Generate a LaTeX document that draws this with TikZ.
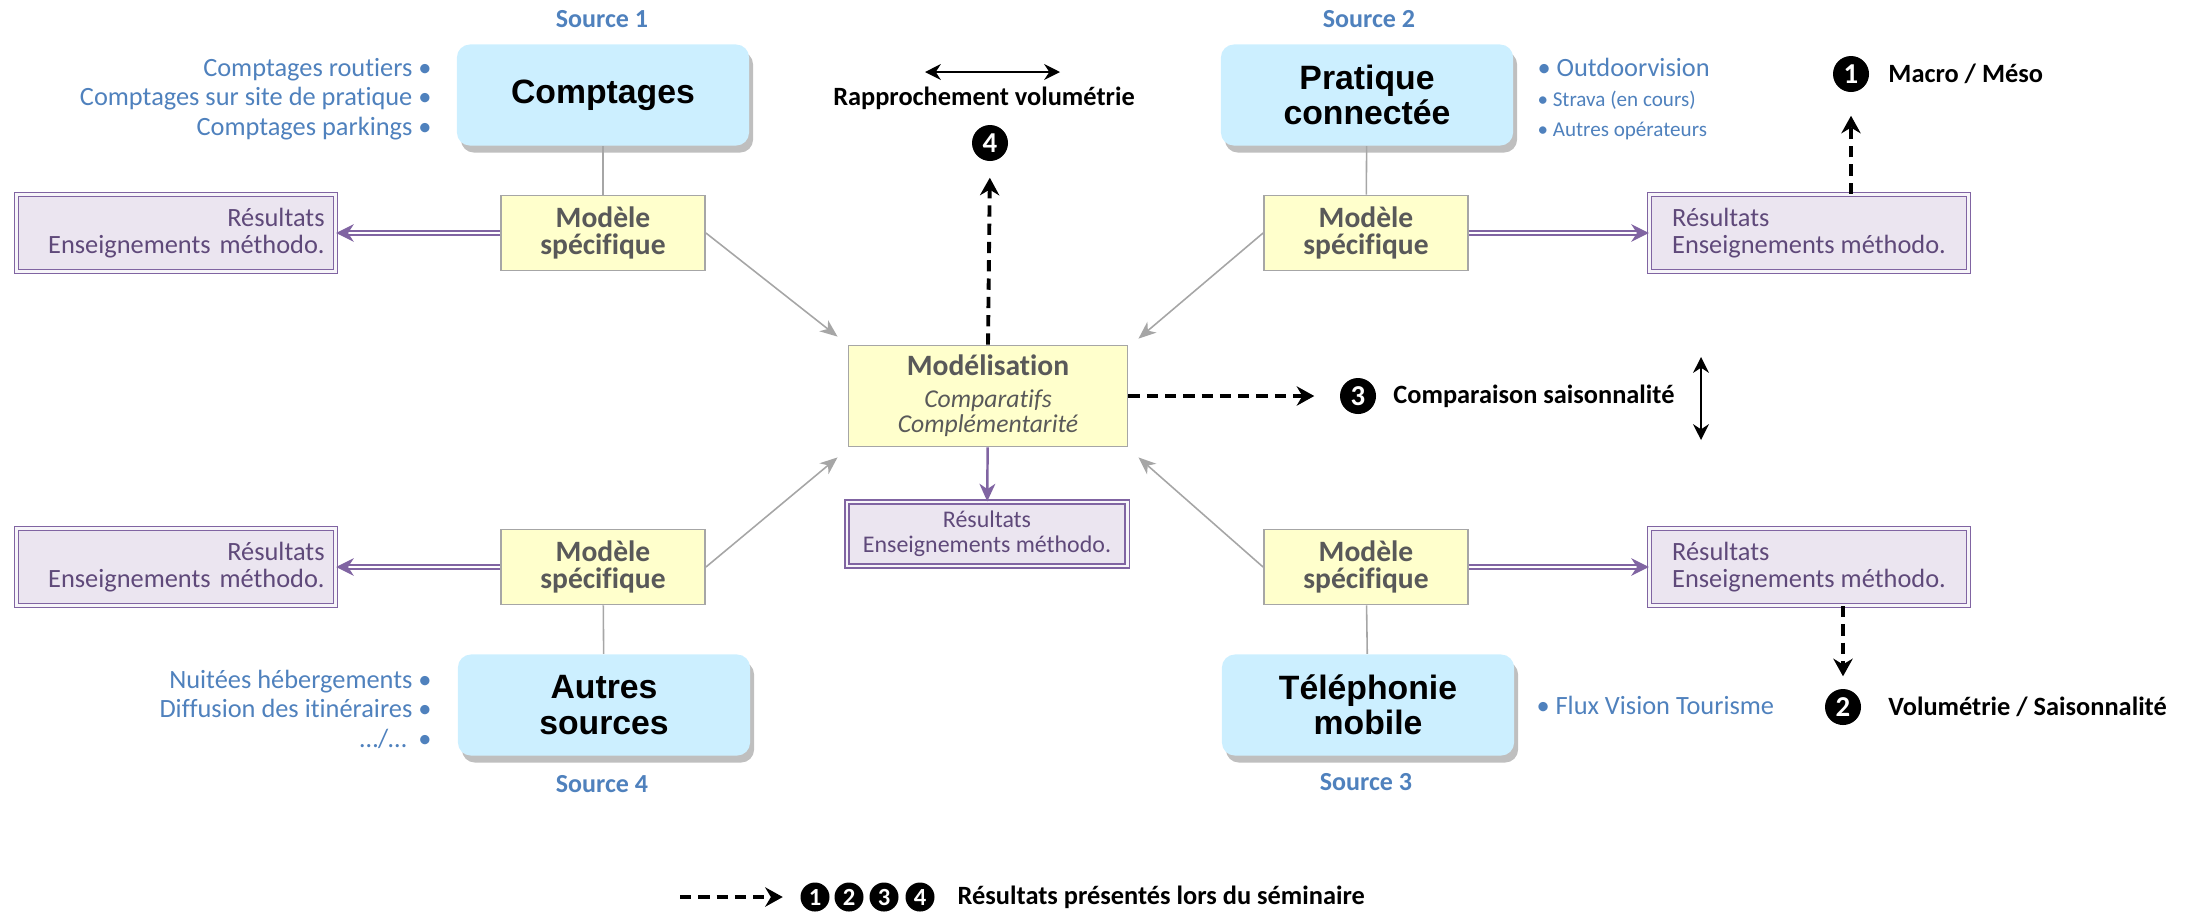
\documentclass[tikz,border=0pt]{standalone}
\usepackage{fontspec}
\setmainfont{Carlito}[Ligatures=NoCommon]
\newfontfamily\boxfont{Liberation Sans}
\usetikzlibrary{arrows.meta,positioning,shadows}

\definecolor{srcfill}{HTML}{CCEFFF}
\definecolor{modfill}{HTML}{FFFFCC}
\definecolor{moddraw}{HTML}{A6A6A6}
\definecolor{modtext}{HTML}{595959}
\definecolor{resfill}{HTML}{EBE5F0}
\definecolor{resdraw}{HTML}{8064A2}
\definecolor{restext}{HTML}{5F497A}
\definecolor{listblue}{HTML}{4F81BD}
\definecolor{linkgray}{HTML}{A6A6A6}

\begin{document}
\begin{tikzpicture}[x=0.01cm,y=-0.01cm,
	source/.style={rounded corners=0.13cm,fill=srcfill,minimum width=2.92cm,minimum height=1.01cm,
		inner sep=0pt,align=center,font=\boxfont\bfseries\fontsize{9.6}{10}\selectfont,
		drop shadow={shadow xshift=0.04cm,shadow yshift=-0.07cm,opacity=0.25,fill=black}},
	srclabel/.style={text=listblue,inner sep=0pt,font=\bfseries\fontsize{7.4}{8}\selectfont},
	srclist/.style={text=listblue,inner sep=0pt,font=\fontsize{7.5}{8.4}\selectfont},
	modele/.style={draw=moddraw,fill=modfill,line width=0.5pt,minimum width=2.04cm,minimum height=0.75cm,
		inner sep=0pt,align=center,text=modtext,font=\bfseries\fontsize{8.4}{7.6}\selectfont},
	result/.style={draw=resdraw,fill=resfill,double=resfill!40,double distance=0.8pt,line width=0.35pt,
		minimum width=3.19cm,minimum height=0.77cm,inner ysep=0pt,text=restext,
		font=\fontsize{7.5}{7.7}\selectfont},
	resright/.style={text width=2.97cm,inner xsep=0.11cm,align=right},
	resleft/.style={align=left},
	num/.style={circle,fill=black,text=white,inner sep=0pt,minimum size=0.36cm,
		font=\bfseries\fontsize{8.2}{8.2}\selectfont},
	smallnum/.style={num,minimum size=0.29cm,font=\bfseries\fontsize{7}{7}\selectfont},
	lab/.style={inner sep=0pt,font=\bfseries\fontsize{7.5}{8}\selectfont},
	thinlink/.style={draw=linkgray,line width=0.45pt},
	feed/.style={thinlink,-{Stealth[length=5pt,width=4pt,inset=1.5pt]}},
	resarrow/.style={draw=resdraw,double=white,double distance=0.8pt,line width=0.4pt,
		-{Stealth[length=5pt,width=5pt]}},
	resdown/.style={draw=resdraw,line width=0.7pt,-{Stealth[length=5pt,width=4.5pt,inset=1.5pt]}},
	dasharrow/.style={line width=1.1pt,dash pattern=on 3.2pt off 2pt,
		-{Stealth[length=5pt,width=5.5pt]}},
	biarrow/.style={line width=0.6pt,{Stealth[length=4.5pt,width=4.5pt]}-{Stealth[length=4.5pt,width=4.5pt]}}]
\useasboundingbox (0,0) rectangle (2200,911);

% sources
\node[source] (src1) at (603,95) {Comptages};
\node[source] (src2) at (1367,95) {Pratique\\connectée};
\node[source] (src3) at (1368,705) {Téléphonie\\mobile};
\node[source] (src4) at (604,705) {Autres\\sources};

\node[srclabel] (lab1) at (602,19) {Source 1};
\node[srclabel] (lab2) at (1369,19) {Source 2};
\node[srclabel] (lab3) at (1366,782) {Source 3};
\node[srclabel] (lab4) at (602,784) {Source 4};

\node[srclist,align=right,left=0.24cm of src1,yshift=-0.04cm] (list1)
	{Comptages routiers •\\Comptages sur site de pratique •\\Comptages parkings •};
\node[srclist,align=right,left=0.25cm of src4,yshift=-0.04cm] (list4)
	{Nuitées hébergements •\\Diffusion des itinéraires •\\…/…\hspace{0.45em}•};
\node[srclist,align=left,right=0.23cm of src2,yshift=-0.04cm,font=\fontsize{6}{8.5}\selectfont] (list2)
	{{\fontsize{7.5}{8.5}\selectfont • Outdoorvision}\\• Strava (en cours)\\• Autres opérateurs};
\node[srclist,right=0.21cm of src3] (list3) {• Flux Vision Tourisme};

% modeles
\node[modele] (mod1) at (603,233) {Modèle\\spécifique};
\node[modele] (mod2) at (1366,233) {Modèle\\spécifique};
\node[modele] (mod3) at (1366,567) {Modèle\\spécifique};
\node[modele] (mod4) at (603,567) {Modèle\\spécifique};

\node[modele,minimum width=2.79cm,minimum height=1.01cm,font=\itshape\fontsize{7.3}{7.1}\selectfont] (modl) at (988,396)
	{{\upshape\bfseries\fontsize{8.4}{8.4}\selectfont Modélisation}\\[2pt]Comparatifs\\Complémentarité};

% resultats
\node[result,resright] (res1) at (176,233) {Résultats\\Enseignements méthodo.};
\node[result,resright] (res4) at (176,567) {Résultats\\Enseignements méthodo.};
\node[result,resleft] (res2) at (1809,233) {Résultats\\Enseignements méthodo.};
\node[result,resleft] (res3) at (1809,567) {Résultats\\Enseignements méthodo.};
\node[result,minimum width=2.8cm,minimum height=0.64cm,align=center,
	font=\fontsize{6.8}{7.1}\selectfont] (resC) at (987,534) {Résultats\\Enseignements méthodo.};

% numeros
\node[num] (c1) at (1851,74) {1};
\node[num] (c2) at (1843,707) {2};
\node[num] (c3) at (1358,396) {3};
\node[num] (c4) at (990,143) {4};
\node[lab,right=0.18cm of c1] (t1) {Macro / Méso};
\node[lab,right=0.26cm of c2] (t2) {Volumétrie / Saisonnalité};
\node[lab,right=0.16cm of c3] (t3) {Comparaison saisonnalité};
\node[lab] (t4) at (984,98) {Rapprochement volumétrie};

\coordinate (ha) at (925,72);
\coordinate (hb) at (1060,72);
\coordinate (va) at (1701,357);
\coordinate (vb) at (1701,440);
\draw[biarrow] (ha) -- (hb);
\draw[biarrow] (va) -- (vb);

% liens
\draw[thinlink] (src1) -- (mod1);
\draw[thinlink] (src2) -- (mod2);
\draw[thinlink] (src3) -- (mod3);
\draw[thinlink] (src4) -- (mod4);
\draw[feed] (mod1.east) -- ([shift={(-10,-8)}]modl.north west);
\draw[feed] (mod2.west) -- ([shift={(10,-6)}]modl.north east);
\draw[feed] (mod4.east) -- ([shift={(-10,10)}]modl.south west);
\draw[feed] (mod3.west) -- ([shift={(10,10)}]modl.south east);
\draw[resarrow] (mod1) -- (res1);
\draw[resarrow] (mod2) -- (res2);
\draw[resarrow] (mod3) -- (res3);
\draw[resarrow] (mod4) -- (res4);
\draw[resdown] (modl) -- (resC);

\draw[dasharrow,shorten >=0.16cm] (modl.north) -- (c4.south);
\draw[dasharrow,shorten >=0.25cm] (modl.east) -- (c3.west);
\draw[dasharrow,shorten >=0.23cm] (res2.north -| c1) -- (c1.south);
\draw[dasharrow,shorten >=0.12cm] (res3.south -| c2) -- (c2.north);

% legende
\coordinate (leg) at (680,897);
\node[smallnum] (l1) at (815,897) {1};
\node[smallnum] (l2) at (849,897) {2};
\node[smallnum] (l3) at (884,897) {3};
\node[smallnum] (l4) at (920,897) {4};
\node[lab,anchor=west] (tleg) at (957,897) {Résultats présentés lors du séminaire};
\draw[dasharrow,shorten >=0.17cm] (leg) -- (l1.west);

\end{tikzpicture}
\end{document}
